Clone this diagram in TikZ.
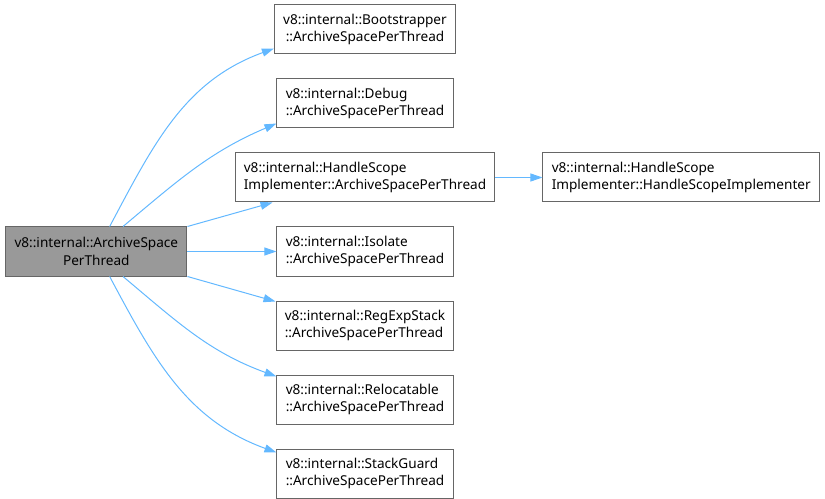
\documentclass[tikz,border=0pt]{standalone}
\usepackage{fontspec}
\setmainfont{Noto Sans}
\usepackage{xcolor}
\usetikzlibrary{arrows.meta,positioning}

\definecolor{edgeblue}{HTML}{63B8FF}
\definecolor{boxline}{HTML}{666666}
\definecolor{rootfill}{HTML}{999999}

\begin{document}
\begin{tikzpicture}[
    font=\fontsize{10.2pt}{13.3pt}\selectfont,
    node distance=18pt and 18pt,
    fn/.style={draw=boxline, line width=0.75pt, fill=white, align=left, minimum height=36.75pt, inner xsep=6.6pt, inner ysep=2pt},
    rootfn/.style={fn, fill=rootfill, align=center},
    call/.style={-{Triangle[length=9pt,width=6pt]}, draw=edgeblue, line width=0.75pt}
]
\useasboundingbox (0,0) rectangle (618.75pt,-374.25pt);
\node[fn, align=center] (boot) at (273.75pt,-22.125pt) {v8::internal::Bootstrapper\\::ArchiveSpacePerThread};
\node[fn, below=of boot] (debug) {v8::internal::Debug\\::ArchiveSpacePerThread};
\node[fn, below=of debug] (hsi) {v8::internal::HandleScope\\Implementer::ArchiveSpacePerThread};
\node[fn, below=of hsi] (isolate) {v8::internal::Isolate\\::ArchiveSpacePerThread};
\node[fn, below=of isolate] (regexp) {v8::internal::RegExpStack\\::ArchiveSpacePerThread};
\node[fn, below=of regexp] (reloc) {v8::internal::Relocatable\\::ArchiveSpacePerThread};
\node[fn, below=of reloc] (guard) {v8::internal::StackGuard\\::ArchiveSpacePerThread};
\node[rootfn, left=66.75pt of isolate] (root) {v8::internal::ArchiveSpace\\PerThread};
\node[fn, right=35.25pt of hsi] (hsictor) {v8::internal::HandleScope\\Implementer::HandleScopeImplementer};
% calls out of the root
\draw[call] ([xshift=10pt]root.north) to[out=62,in=200] ([yshift=4.5pt]boot.south west);
\draw[call] ([xshift=20pt]root.north) to[out=40,in=203] ([yshift=3.75pt]debug.south west);
\draw[call] (root.north east) -- ([xshift=28.5pt]hsi.south west);
\draw[call] (root.east) -- (isolate.west);
\draw[call] (root.south east) -- ([yshift=-0.75pt]regexp.north west);
\draw[call] ([xshift=20pt]root.south) to[out=-40,in=160] ([yshift=-1.5pt]reloc.north west);
\draw[call] ([xshift=10pt]root.south) to[out=-62,in=160] ([yshift=-3pt]guard.north west);
\draw[call] (hsi.east) -- (hsictor.west);
\end{tikzpicture}
\end{document}
